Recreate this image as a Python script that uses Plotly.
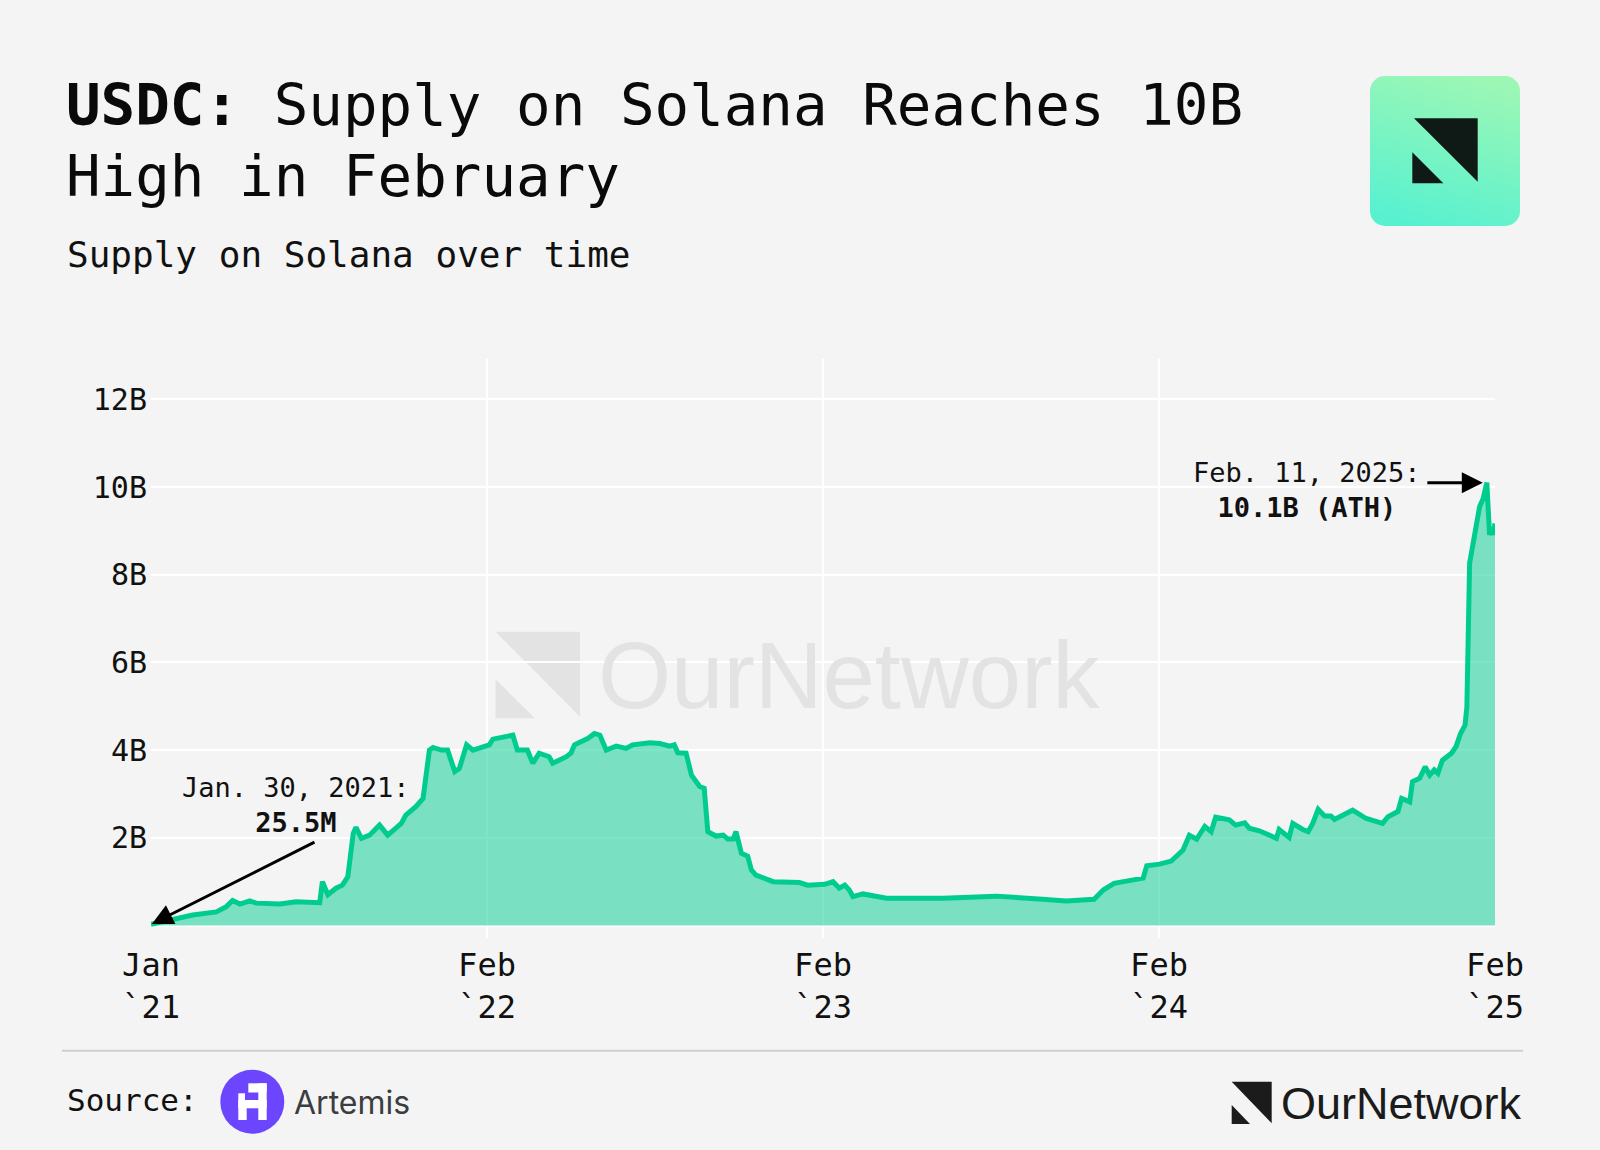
import base64
import numpy as np
import pandas as pd
import plotly.graph_objects as go

# ---------------- data ----------------
start_date = "2021-01-30"
end_day = 1482  # last observation, days after start (~Feb 20, 2025)

days_since_start = [
    0, 24, 46, 72, 83, 90, 98, 109, 116, 142, 160, 186, 189, 195, 204, 211, 217,
    223, 226, 232, 241, 252, 261, 270, 276, 281, 292, 300, 303, 307, 311, 320,
    327, 335, 340, 348, 355, 373, 377, 395, 399, 404, 415, 421, 428, 439, 443,
    458, 463, 467, 482, 489, 495, 502, 513, 524, 531, 550, 561, 572, 577, 581,
    590, 596, 601, 605, 610, 614, 623, 631, 636, 642, 645, 651, 658, 662, 667,
    678, 686, 715, 724, 743, 752, 759, 765, 770, 774, 785, 796, 811, 873, 932,
    983, 1009, 1040, 1050, 1062, 1072, 1083, 1094, 1098, 1112, 1125, 1138, 1145,
    1153, 1162, 1169, 1174, 1189, 1196, 1206, 1211, 1222, 1241, 1244, 1255, 1259,
    1270, 1276, 1281, 1287, 1294, 1301, 1305, 1325, 1340, 1358, 1364, 1375, 1379,
    1388, 1391, 1399, 1405, 1410, 1415, 1419, 1424, 1434, 1439, 1444, 1449, 1451,
    1454, 1460, 1465, 1469, 1473, 1476, 1479, 1480, 1482,
]
supply_b = [
    0.0255, 0.125, 0.24, 0.31, 0.43, 0.57, 0.49, 0.56, 0.51, 0.49, 0.54, 0.52, 1.0,
    0.70, 0.85, 0.92, 1.11, 2.10, 2.24, 1.99, 2.06, 2.29, 2.06, 2.22, 2.33, 2.52,
    2.71, 2.90, 3.32, 4.00, 4.06, 4.00, 4.00, 3.51, 3.58, 4.12, 4.00, 4.12, 4.25,
    4.32, 4.34, 4.00, 4.00, 3.70, 3.93, 3.85, 3.70, 3.85, 3.93, 4.12, 4.27, 4.38,
    4.34, 4.00, 4.09, 4.04, 4.12, 4.17, 4.15, 4.09, 4.12, 3.94, 3.93, 3.43, 3.28,
    3.17, 3.13, 2.14, 2.04, 2.06, 1.97, 1.97, 2.14, 1.65, 1.58, 1.27, 1.15, 1.08,
    1.00, 0.98, 0.92, 0.94, 1.00, 0.85, 0.92, 0.81, 0.66, 0.72, 0.67, 0.62, 0.62,
    0.67, 0.60, 0.56, 0.60, 0.81, 0.96, 1.00, 1.04, 1.08, 1.36, 1.40, 1.47, 1.72,
    2.06, 1.97, 2.26, 2.14, 2.47, 2.41, 2.29, 2.34, 2.22, 2.16, 1.99, 2.19, 2.01,
    2.33, 2.19, 2.14, 2.33, 2.65, 2.50, 2.50, 2.42, 2.63, 2.44, 2.33, 2.48, 2.60,
    2.90, 2.82, 3.28, 3.36, 3.62, 3.43, 3.55, 3.47, 3.77, 3.93, 4.08, 4.38, 4.57,
    4.99, 8.26, 8.91, 9.55, 9.74, 10.10, 8.91, 9.09, 8.91, 9.17,
]

x_tick_labels = ["Jan<br>`21", "Feb<br>`22", "Feb<br>`23", "Feb<br>`24", "Feb<br>`25"]
y_tick_values = [2, 4, 6, 8, 10, 12]
y_tick_labels = ["2B", "4B", "6B", "8B", "10B", "12B"]

first_label = "Jan. 30, 2021:<br><b>25.5M</b>"
first_day, first_value = 0, 0.0255
ath_label = "Feb. 11, 2025:<br><b>10.1B (ATH)</b>"
ath_date, ath_value = "2025-02-11", 10.1

# ---------------- derived ----------------
t0 = pd.Timestamp(start_date)
dates = t0 + pd.to_timedelta(days_since_start, unit="D")
t_end = t0 + pd.Timedelta(days=end_day)
tick_dates = [t0 + pd.Timedelta(days=float(d)) for d in np.linspace(0, end_day, 5)]

# ---------------- layout geometry ----------------
W, H = 1600, 1150
L, R, T, B = 151, 1495, 359, 938
PW, PH = R - L, B - T


def px(x):
    return (x - L) / PW


def py(y):
    return (B - y) / PH


def poly(points):
    return "M " + " L ".join(f"{px(x):.5f},{py(y):.5f}" for x, y in points) + " Z"


def rect(x0, y0, x1, y1, color):
    return dict(type="rect", xref="paper", yref="paper",
                x0=px(x0), x1=px(x1), y0=py(y1), y1=py(y0),
                fillcolor=color, line=dict(width=0))


MONO = "DejaVu Sans Mono"
BG = "#f4f4f4"
LINE = "#00cc8f"

fig = go.Figure()
fig.add_trace(go.Scatter(
    x=dates, y=supply_b, mode="lines",
    line=dict(color=LINE, width=5),
    fill="tozeroy", fillcolor="rgba(0,204,143,0.5)",
    hoverinfo="skip",
))

shapes = []
# watermark icon
wm = "#e3e3e3"
shapes.append(dict(type="path", xref="paper", yref="paper", layer="below",
                   path=poly([(495.5, 631.7), (580, 631.7), (580, 716.7)]),
                   fillcolor=wm, line=dict(width=0)))
shapes.append(dict(type="path", xref="paper", yref="paper", layer="below",
                   path=poly([(495.5, 679.3), (495.5, 718.3), (535, 718.3)]),
                   fillcolor=wm, line=dict(width=0)))
# footer rule
shapes.append(dict(type="line", xref="paper", yref="paper",
                   x0=px(62), x1=px(1523), y0=py(1050.7), y1=py(1050.7),
                   line=dict(color="#d2cece", width=2)))
# Artemis circle + pixel glyph
shapes.append(dict(type="circle", xref="paper", yref="paper",
                   x0=px(220.3), x1=px(284.3), y0=py(1133.7), y1=py(1069.7),
                   fillcolor="#6b46fe", line=dict(width=0)))
shapes += [
    rect(248.3, 1083.3, 266.7, 1092.5, "white"),
    rect(258.3, 1083.3, 266.7, 1120, "white"),
    rect(238.3, 1093.3, 245, 1100, "white"),
    rect(238.3, 1100, 266.7, 1108.3, "white"),
    rect(238.3, 1100, 246.7, 1120, "white"),
]
# footer OurNetwork icon
ink = "#1b1b1b"
shapes.append(dict(type="path", xref="paper", yref="paper",
                   path=poly([(1231.7, 1081.7), (1271.7, 1081.7), (1271.7, 1123.3)]),
                   fillcolor=ink, line=dict(width=0)))
shapes.append(dict(type="path", xref="paper", yref="paper",
                   path=poly([(1231.7, 1105), (1231.7, 1124), (1250, 1124)]),
                   fillcolor=ink, line=dict(width=0)))

# top-right gradient logo as inline SVG
svg = (
    "<svg xmlns='http://www.w3.org/2000/svg' width='150' height='150' viewBox='0 0 150 150'>"
    "<defs><linearGradient id='g' x1='0.65' y1='0' x2='0.35' y2='1'>"
    "<stop offset='0' stop-color='#9cf7b5'/><stop offset='1' stop-color='#58f1d0'/>"
    "</linearGradient></defs>"
    "<rect width='150' height='150' rx='15' ry='15' fill='url(#g)'/>"
    "<path d='M44 42.3 H107.7 V105.7 Z' fill='#0f1a16'/>"
    "<path d='M42.3 76.3 V107.3 H73.3 Z' fill='#0f1a16'/>"
    "</svg>"
)
logo_src = "data:image/svg+xml;base64," + base64.b64encode(svg.encode()).decode()

annotations = [
    dict(text="<b>USDC:</b> Supply on Solana Reaches 10B", x=px(64), y=py(105),
         xanchor="left", yanchor="middle", font=dict(family=MONO, size=57.5, color="#0a0a0a")),
    dict(text="High in February", x=px(64), y=py(176),
         xanchor="left", yanchor="middle", font=dict(family=MONO, size=57.5, color="#0a0a0a")),
    dict(text="Supply on Solana over time", x=px(65), y=py(254.5),
         xanchor="left", yanchor="middle", font=dict(family=MONO, size=36, color="#111111")),
    dict(text="OurNetwork", x=px(596), y=py(675),
         xanchor="left", yanchor="middle",
         font=dict(family="Liberation Sans", size=94, color=wm)),
    dict(text=first_label, x=px(295.5), y=py(804.5), xanchor="center", yanchor="middle",
         font=dict(family=MONO, size=27, color="#111111")),
    dict(text=ath_label, x=px(1307), y=py(490), xanchor="center", yanchor="middle",
         font=dict(family=MONO, size=27, color="#111111")),
    dict(text="Source:", x=px(65), y=py(1099.5), xanchor="left", yanchor="middle",
         font=dict(family=MONO, size=31, color="#111111")),
    dict(text="Artemis", x=px(292), y=py(1102.5), xanchor="left", yanchor="middle",
         font=dict(family="Inter", size=32, color="#3b3e3e")),
    dict(text="OurNetwork", x=px(1279), y=py(1103.4), xanchor="left", yanchor="middle",
         font=dict(family="Liberation Sans", size=45, color=ink)),
]
for a in annotations:
    a.update(xref="paper", yref="paper", showarrow=False)

# arrows
annotations.append(dict(
    x=t0 + pd.Timedelta(days=first_day), y=first_value, xref="x", yref="y",
    text="", showarrow=True, ax=165, ay=-83, axref="pixel", ayref="pixel",
    arrowhead=2, arrowsize=1.4, arrowwidth=3, arrowcolor="#000000", standoff=1,
))
annotations.append(dict(
    x=pd.Timestamp(ath_date), y=ath_value, xref="x", yref="y",
    text="", showarrow=True, ax=-61, ay=0, axref="pixel", ayref="pixel",
    arrowhead=2, arrowsize=1.4, arrowwidth=3, arrowcolor="#000000", standoff=4,
))

fig.update_layout(
    width=W, height=H,
    paper_bgcolor=BG, plot_bgcolor=BG,
    margin=dict(l=L, r=W - R, t=T, b=H - B, pad=0),
    showlegend=False,
    shapes=shapes,
    annotations=annotations,
    images=[dict(source=logo_src, xref="paper", yref="paper",
                 x=px(1370), y=py(76), sizex=150 / PW, sizey=150 / PH,
                 xanchor="left", yanchor="top", sizing="stretch", layer="above")],
    xaxis=dict(
        type="date", range=[t0, t_end],
        tickvals=tick_dates, ticktext=x_tick_labels,
        showgrid=True, gridcolor="white", gridwidth=2,
        zeroline=False, showline=False, ticks="",
        ticklabelstandoff=5,
        tickfont=dict(family=MONO, size=32, color="#111111"),
        fixedrange=True,
    ),
    yaxis=dict(
        range=[-0.285, 12.92],
        tickvals=y_tick_values, ticktext=y_tick_labels,
        showgrid=True, gridcolor="white", gridwidth=2,
        zeroline=True, zerolinecolor="white", zerolinewidth=2,
        showline=False, ticks="",
        ticklabelstandoff=3,
        tickfont=dict(family=MONO, size=30, color="#111111"),
        fixedrange=True,
    ),
)

fig.write_html("out.html", config={"displayModeBar": False},
               post_script="document.body.style.margin='0';")
